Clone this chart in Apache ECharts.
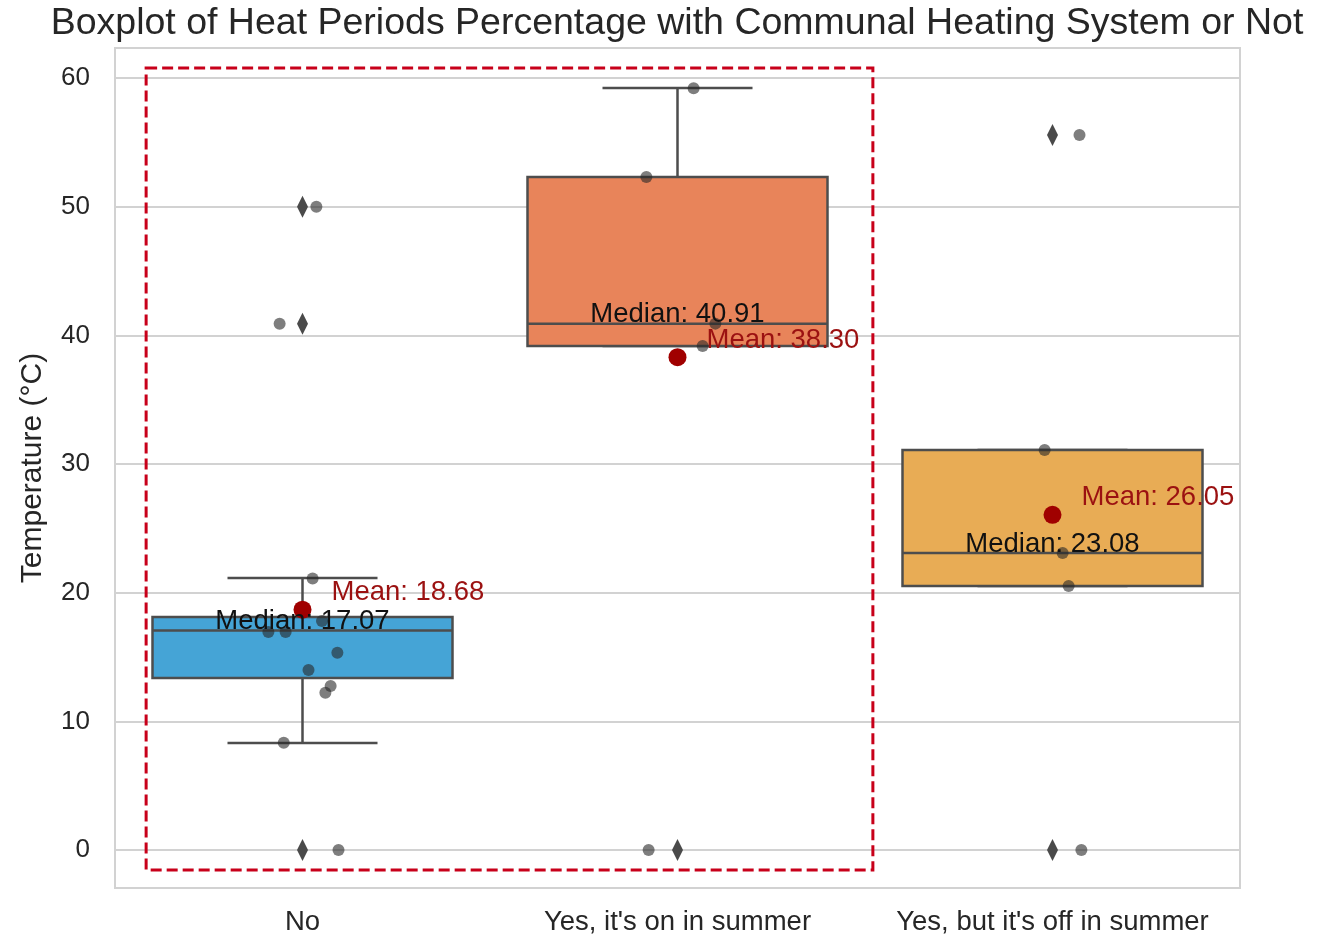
<!DOCTYPE html>
<html>
<head>
<meta charset="utf-8">
<script src="https://cdn.jsdelivr.net/npm/echarts@6/dist/echarts.min.js"></script>
<style>
  html, body { margin: 0; padding: 0; background: #fff; }
  #chart { width: 1342px; height: 935px; }
</style>
</head>
<body>
<div id="chart"></div>
<script>
// data
const categories = ['No', "Yes, it's on in summer", "Yes, but it's off in summer"];
const whiskerLow = [8.32, 39.17, 20.52];
const q1 = [13.37, 39.17, 20.52];
const medians = [17.07, 40.91, 23.08];
const q3 = [18.11, 52.30, 31.09];
const whiskerHigh = [21.14, 59.22, 31.09];
const means = [18.68, 38.30, 26.05];
// fliers: [category index, value]
const outliers = [[0, 0], [0, 40.9], [0, 50.0], [1, 0], [2, 0], [2, 55.57]];
// strip points: [category index, jitter, value]
const observations = [
  [0, 0.096, 0], [0, -0.05, 8.34], [0, 0.061, 12.23], [0, 0.075, 12.75],
  [0, 0.016, 13.99], [0, 0.093, 15.34], [0, -0.091, 16.95], [0, -0.045, 16.95],
  [0, 0.052, 17.8], [0, 0.027, 21.1], [0, -0.061, 40.9], [0, 0.037, 50.0],
  [1, -0.077, 0], [1, 0.067, 39.17], [1, 0.101, 40.91], [1, -0.083, 52.3], [1, 0.043, 59.2],
  [2, 0.077, 0], [2, 0.043, 20.52], [2, 0.027, 23.08], [2, -0.021, 31.09], [2, 0.072, 55.57]
];
// dashed highlight frame (data units)
const highlightX = [-0.417, 1.521];
const highlightY = [-1.55, 60.78];

const boxColors = ['#45a4d6', '#e8845a', '#e8ac55'];
const edge = '#4d4d4d';
const font = '"Liberation Sans", Arial, sans-serif';

const chart = echarts.init(document.getElementById('chart'));

const boxData = categories.map((c, i) => [i, whiskerLow[i], q1[i], medians[i], q3[i], whiskerHigh[i]]);

function renderBox(params, api) {
  const i = api.value(0);
  const xOf = (d) => api.coord([i + d, 0])[0];
  const yOf = (v) => api.coord([i, v])[1];
  const lw = 2.5;
  const L = xOf(-0.4), R = xOf(0.4), C = xOf(0);
  const cl = xOf(-0.2), cr = xOf(0.2);
  const lineStyle = { stroke: edge, lineWidth: lw };
  return {
    type: 'group',
    children: [
      { type: 'line', shape: { x1: C, y1: yOf(api.value(2)), x2: C, y2: yOf(api.value(1)) }, style: lineStyle },
      { type: 'line', shape: { x1: C, y1: yOf(api.value(4)), x2: C, y2: yOf(api.value(5)) }, style: lineStyle },
      { type: 'line', shape: { x1: cl, y1: yOf(api.value(1)), x2: cr, y2: yOf(api.value(1)) }, style: lineStyle },
      { type: 'line', shape: { x1: cl, y1: yOf(api.value(5)), x2: cr, y2: yOf(api.value(5)) }, style: lineStyle },
      {
        type: 'rect',
        shape: { x: L, y: yOf(api.value(4)), width: R - L, height: yOf(api.value(2)) - yOf(api.value(4)) },
        style: { fill: boxColors[i], stroke: edge, lineWidth: lw }
      },
      { type: 'line', shape: { x1: L, y1: yOf(api.value(3)), x2: R, y2: yOf(api.value(3)) }, style: lineStyle }
    ]
  };
}

const option = {
  animation: false,
  backgroundColor: '#fff',
  textStyle: { fontFamily: font },
  graphic: [{
    type: 'text',
    x: 677, y: 24,
    style: {
      text: 'Boxplot of Heat Periods Percentage with Communal Heating System or Not',
      fontSize: 37.5, fontFamily: font, fill: '#262626',
      textAlign: 'center', textVerticalAlign: 'middle'
    }
  }],
  grid: {
    left: 115, right: 102, top: 48, bottom: 47,
    outerBoundsMode: 'none',
    show: true, borderColor: '#d2d2d2', borderWidth: 2, backgroundColor: '#fff'
  },
  xAxis: [
    {
      type: 'category',
      data: categories,
      axisLine: { show: false },
      axisTick: { show: false },
      splitLine: { show: false },
      axisLabel: { fontSize: 27.5, color: '#262626', margin: 20, interval: 0, fontFamily: font }
    },
    { type: 'value', min: -0.5, max: 2.5, show: false }
  ],
  yAxis: {
    type: 'value',
    min: -2.95,
    max: 62.33,
    axisLine: { show: false },
    axisTick: { show: false },
    splitLine: { lineStyle: { color: '#d2d2d2', width: 2 } },
    axisLabel: { fontSize: 26, color: '#262626', margin: 25, showMinLabel: false, showMaxLabel: false, fontFamily: font },
    name: 'Temperature (°C)',
    nameLocation: 'middle',
    nameGap: 67,
    nameTextStyle: { fontSize: 30, color: '#262626', fontFamily: font }
  },
  series: [
    {
      type: 'custom',
      xAxisIndex: 1,
      renderItem: renderBox,
      encode: { x: 0, y: [1, 2, 3, 4, 5] },
      data: boxData,
      z: 2
    },
    {
      type: 'scatter',
      xAxisIndex: 1,
      symbol: 'diamond',
      symbolSize: [11, 22],
      itemStyle: { color: '#4a4a4a', opacity: 1 },
      data: outliers,
      z: 3
    },
    {
      type: 'scatter',
      xAxisIndex: 1,
      symbolSize: 12,
      itemStyle: { color: 'rgba(40,40,40,0.6)', opacity: 1 },
      data: observations.map(o => [o[0] + o[1], o[2]]),
      z: 4
    },
    {
      type: 'scatter',
      xAxisIndex: 1,
      symbolSize: 18,
      itemStyle: { color: '#a00000', opacity: 1 },
      data: means.map((m, i) => [i, m]),
      z: 5
    },
    {
      type: 'custom',
      xAxisIndex: 1,
      data: categories.map((c, i) => [i, medians[i], means[i]]),
      encode: { x: 0, y: [1, 2] },
      z: 6,
      renderItem: function (params, api) {
        const i = api.value(0);
        const pm = api.coord([i, api.value(1)]);
        const pa = api.coord([i, api.value(2)]);
        return {
          type: 'group',
          children: [
            {
              type: 'text', x: pm[0], y: pm[1] - 9,
              style: {
                text: 'Median: ' + api.value(1).toFixed(2), fontSize: 27.5, fontFamily: font,
                fill: '#111', textAlign: 'center', textVerticalAlign: 'middle'
              }
            },
            {
              type: 'text', x: pa[0] + 29, y: pa[1] - 17,
              style: {
                text: 'Mean: ' + api.value(2).toFixed(2), fontSize: 27.5, fontFamily: font,
                fill: '#9b1111', textAlign: 'left', textVerticalAlign: 'middle'
              }
            }
          ]
        };
      }
    },
    {
      type: 'custom',
      xAxisIndex: 1,
      data: [[highlightX[0], highlightY[0], highlightX[1], highlightY[1]]],
      encode: { x: [0, 2], y: [1, 3] },
      z: 7,
      renderItem: function (params, api) {
        const a = api.coord([api.value(0), api.value(1)]);
        const b = api.coord([api.value(2), api.value(3)]);
        return {
          type: 'rect',
          shape: { x: a[0], y: b[1], width: b[0] - a[0], height: a[1] - b[1] },
          style: { fill: 'none', stroke: '#c8001a', lineWidth: 3, lineDash: [11, 5] }
        };
      }
    }
  ]
};

chart.setOption(option);
</script>
</body>
</html>
